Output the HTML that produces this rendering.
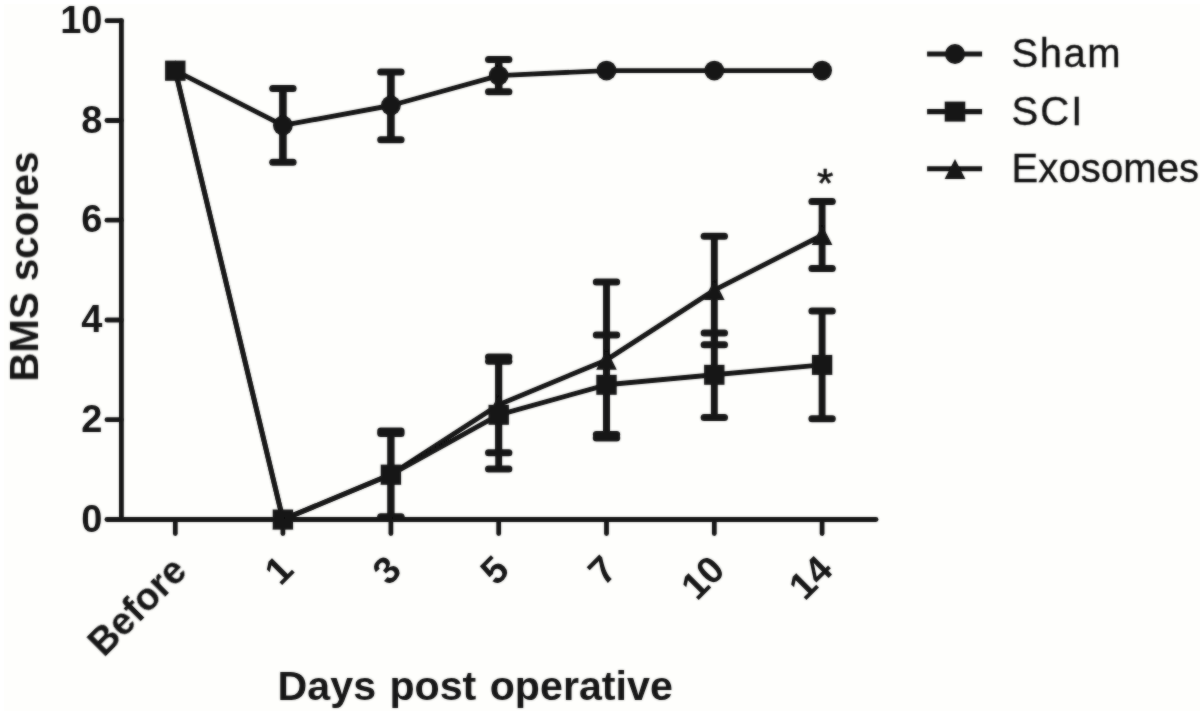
<!DOCTYPE html>
<html lang="en"><head><meta charset="utf-8"><title>BMS scores</title>
<style>html,body{margin:0;padding:0;background:#ffffff;}body{width:1204px;height:716px;overflow:hidden;}svg{display:block;}text{font-family:"Liberation Sans",Arial,Helvetica,sans-serif;fill:#121212;}</style>
</head><body>
<svg width="1204" height="716" viewBox="0 0 1204 716">
<rect x="0" y="0" width="1204" height="716" fill="#ffffff"/>
<rect x="4" y="4" width="1196" height="707" fill="#fefefc"/>
<defs><filter id="soft" x="0" y="0" width="1204" height="716" filterUnits="userSpaceOnUse"><feGaussianBlur stdDeviation="0.8" result="b"/><feComposite in="SourceGraphic" in2="b" operator="arithmetic" k1="0" k2="0.5" k3="0.5" k4="0"/></filter></defs>
<g id="chart" filter="url(#soft)">
<g id="series">
<line x1="390.9" y1="431.0" x2="390.9" y2="518.0" stroke="#121212" stroke-width="6.9"/>
<line x1="380.7" y1="431.0" x2="401.1" y2="431.0" stroke="#121212" stroke-width="7.0" stroke-linecap="round"/>
<line x1="380.7" y1="518.0" x2="401.1" y2="518.0" stroke="#121212" stroke-width="7.0" stroke-linecap="round"/>
<line x1="498.7" y1="357.1" x2="498.7" y2="452.8" stroke="#121212" stroke-width="6.9"/>
<line x1="488.5" y1="357.1" x2="508.9" y2="357.1" stroke="#121212" stroke-width="7.0" stroke-linecap="round"/>
<line x1="488.5" y1="452.8" x2="508.9" y2="452.8" stroke="#121212" stroke-width="7.0" stroke-linecap="round"/>
<line x1="606.5" y1="281.9" x2="606.5" y2="437.9" stroke="#121212" stroke-width="6.9"/>
<line x1="596.3" y1="281.9" x2="616.7" y2="281.9" stroke="#121212" stroke-width="7.0" stroke-linecap="round"/>
<line x1="596.3" y1="437.9" x2="616.7" y2="437.9" stroke="#121212" stroke-width="7.0" stroke-linecap="round"/>
<line x1="714.3" y1="236.3" x2="714.3" y2="344.8" stroke="#121212" stroke-width="6.9"/>
<line x1="704.1" y1="236.3" x2="724.5" y2="236.3" stroke="#121212" stroke-width="7.0" stroke-linecap="round"/>
<line x1="704.1" y1="344.8" x2="724.5" y2="344.8" stroke="#121212" stroke-width="7.0" stroke-linecap="round"/>
<line x1="822.1" y1="201.6" x2="822.1" y2="268.6" stroke="#121212" stroke-width="6.9"/>
<line x1="811.9" y1="201.6" x2="832.3" y2="201.6" stroke="#121212" stroke-width="7.0" stroke-linecap="round"/>
<line x1="811.9" y1="268.6" x2="832.3" y2="268.6" stroke="#121212" stroke-width="7.0" stroke-linecap="round"/>
<line x1="390.9" y1="433.6" x2="390.9" y2="516.8" stroke="#121212" stroke-width="6.9"/>
<line x1="380.7" y1="433.6" x2="401.1" y2="433.6" stroke="#121212" stroke-width="7.0" stroke-linecap="round"/>
<line x1="380.7" y1="516.8" x2="401.1" y2="516.8" stroke="#121212" stroke-width="7.0" stroke-linecap="round"/>
<line x1="498.7" y1="361.2" x2="498.7" y2="469.0" stroke="#121212" stroke-width="6.9"/>
<line x1="488.5" y1="361.2" x2="508.9" y2="361.2" stroke="#121212" stroke-width="7.0" stroke-linecap="round"/>
<line x1="488.5" y1="469.0" x2="508.9" y2="469.0" stroke="#121212" stroke-width="7.0" stroke-linecap="round"/>
<line x1="606.5" y1="335.1" x2="606.5" y2="434.5" stroke="#121212" stroke-width="6.9"/>
<line x1="596.3" y1="335.1" x2="616.7" y2="335.1" stroke="#121212" stroke-width="7.0" stroke-linecap="round"/>
<line x1="596.3" y1="434.5" x2="616.7" y2="434.5" stroke="#121212" stroke-width="7.0" stroke-linecap="round"/>
<line x1="714.3" y1="333.0" x2="714.3" y2="417.4" stroke="#121212" stroke-width="6.9"/>
<line x1="704.1" y1="333.0" x2="724.5" y2="333.0" stroke="#121212" stroke-width="7.0" stroke-linecap="round"/>
<line x1="704.1" y1="417.4" x2="724.5" y2="417.4" stroke="#121212" stroke-width="7.0" stroke-linecap="round"/>
<line x1="822.1" y1="310.9" x2="822.1" y2="418.8" stroke="#121212" stroke-width="6.9"/>
<line x1="811.9" y1="310.9" x2="832.3" y2="310.9" stroke="#121212" stroke-width="7.0" stroke-linecap="round"/>
<line x1="811.9" y1="418.8" x2="832.3" y2="418.8" stroke="#121212" stroke-width="7.0" stroke-linecap="round"/>
<line x1="282.9" y1="88.4" x2="282.9" y2="162.3" stroke="#121212" stroke-width="7.6"/>
<line x1="272.7" y1="88.4" x2="293.1" y2="88.4" stroke="#121212" stroke-width="7.0" stroke-linecap="round"/>
<line x1="272.7" y1="162.3" x2="293.1" y2="162.3" stroke="#121212" stroke-width="7.0" stroke-linecap="round"/>
<line x1="390.9" y1="71.9" x2="390.9" y2="139.8" stroke="#121212" stroke-width="7.6"/>
<line x1="380.7" y1="71.9" x2="401.1" y2="71.9" stroke="#121212" stroke-width="7.0" stroke-linecap="round"/>
<line x1="380.7" y1="139.8" x2="401.1" y2="139.8" stroke="#121212" stroke-width="7.0" stroke-linecap="round"/>
<line x1="498.7" y1="59.4" x2="498.7" y2="91.8" stroke="#121212" stroke-width="7.6"/>
<line x1="488.5" y1="59.4" x2="508.9" y2="59.4" stroke="#121212" stroke-width="7.0" stroke-linecap="round"/>
<line x1="488.5" y1="91.8" x2="508.9" y2="91.8" stroke="#121212" stroke-width="7.0" stroke-linecap="round"/>
<polyline points="175.3,70.6 282.9,519.5 390.9,474.6 498.7,404.8 606.5,359.9 714.3,290.1 822.1,235.2" fill="none" stroke="#121212" stroke-width="4.9" stroke-linejoin="round"/>
<polyline points="175.3,70.6 282.9,519.5 390.9,474.6 498.7,414.8 606.5,384.8 714.3,374.8 822.1,364.9" fill="none" stroke="#121212" stroke-width="4.9" stroke-linejoin="round"/>
<polyline points="175.3,70.6 282.9,125.4 390.9,105.5 498.7,75.6 606.5,70.6 714.3,70.6 822.1,70.6" fill="none" stroke="#121212" stroke-width="4.9" stroke-linejoin="round"/>
<polygon points="175.3,60.3 185.6,80.4 165.0,80.4" fill="#121212"/>
<polygon points="282.9,509.2 293.2,529.3 272.6,529.3" fill="#121212"/>
<polygon points="390.9,464.3 401.2,484.4 380.6,484.4" fill="#121212"/>
<polygon points="498.7,394.5 509.0,414.6 488.4,414.6" fill="#121212"/>
<polygon points="606.5,349.6 616.8,369.7 596.2,369.7" fill="#121212"/>
<polygon points="714.3,279.8 724.6,299.9 704.0,299.9" fill="#121212"/>
<polygon points="822.1,224.9 832.4,245.0 811.8,245.0" fill="#121212"/>
<rect x="165.1" y="60.6" width="20.4" height="20" fill="#121212"/>
<rect x="272.7" y="509.5" width="20.4" height="20" fill="#121212"/>
<rect x="380.7" y="464.6" width="20.4" height="20" fill="#121212"/>
<rect x="488.5" y="404.8" width="20.4" height="20" fill="#121212"/>
<rect x="596.3" y="374.8" width="20.4" height="20" fill="#121212"/>
<rect x="704.1" y="364.8" width="20.4" height="20" fill="#121212"/>
<rect x="811.9" y="354.9" width="20.4" height="20" fill="#121212"/>
<circle cx="282.9" cy="125.4" r="9.9" fill="#121212"/>
<circle cx="390.9" cy="105.5" r="9.9" fill="#121212"/>
<circle cx="498.7" cy="75.6" r="9.9" fill="#121212"/>
<circle cx="606.5" cy="70.6" r="9.9" fill="#121212"/>
<circle cx="714.3" cy="70.6" r="9.9" fill="#121212"/>
<circle cx="822.1" cy="70.6" r="9.9" fill="#121212"/>
</g>
<g id="axes" stroke="#121212" stroke-width="4.8" stroke-linecap="round" fill="none">
<path d="M121.4,20.6 V519.5"/>
<path d="M106.9,519.5 H876"/>
<path d="M106.9,419.7 H121.4"/>
<path d="M106.9,320.0 H121.4"/>
<path d="M106.9,220.2 H121.4"/>
<path d="M106.9,120.5 H121.4"/>
<path d="M106.9,20.7 H121.4"/>
<path d="M175.3,519.5 V533.5"/>
<path d="M282.9,519.5 V533.5"/>
<path d="M390.9,519.5 V533.5"/>
<path d="M498.7,519.5 V533.5"/>
<path d="M606.5,519.5 V533.5"/>
<path d="M714.3,519.5 V533.5"/>
<path d="M822.1,519.5 V533.5"/>
</g>
<g id="ylabels" font-size="38" font-weight="bold" text-anchor="end">
<text x="102.5" y="531.6">0</text>
<text x="102.5" y="431.8">2</text>
<text x="102.5" y="332.1">4</text>
<text x="102.5" y="232.3">6</text>
<text x="102.5" y="132.6">8</text>
<text x="102.5" y="32.8">10</text>
</g>
<g id="xlabels" font-size="38" font-weight="bold" text-anchor="end">
<text transform="translate(188.8,573.0) rotate(-45)" x="0" y="0">Before</text>
<text transform="translate(295.4,571.9) rotate(-45)" x="0" y="0">1</text>
<text transform="translate(403.4,571.9) rotate(-45)" x="0" y="0">3</text>
<text transform="translate(511.2,571.9) rotate(-45)" x="0" y="0">5</text>
<text transform="translate(619.0,571.9) rotate(-45)" x="0" y="0">7</text>
<text transform="translate(726.8,571.9) rotate(-45)" x="0" y="0">10</text>
<text transform="translate(834.6,571.9) rotate(-45)" x="0" y="0">14</text>
</g>
<text id="xtitle" x="475.2" y="700" font-size="41.2" word-spacing="1.9" font-weight="bold" text-anchor="middle">Days post operative</text>
<text id="ytitle" transform="translate(38,266.6) rotate(-90)" font-size="40.2" font-weight="bold" text-anchor="middle">BMS scores</text>
<text id="star" transform="translate(825.2 175.9) scale(1.0 0.95)" x="0" y="21.7" font-size="42" text-anchor="middle" stroke="#121212" stroke-width="0.6" stroke-linejoin="round">*</text>
<g id="legend">
<line x1="927.1" y1="54.0" x2="982.1" y2="54.0" stroke="#121212" stroke-width="5.1"/>
<circle cx="955.0" cy="54.0" r="10" fill="#121212"/>
<text x="1011.6" y="67.3" font-size="40" letter-spacing="1.5" stroke="#121212" stroke-width="0.35">Sham</text>
<line x1="927.1" y1="111.6" x2="982.1" y2="111.6" stroke="#121212" stroke-width="5.1"/>
<rect x="944.7" y="101.6" width="20.6" height="20" fill="#121212"/>
<text x="1011.6" y="125.2" font-size="40" letter-spacing="2.0" stroke="#121212" stroke-width="0.35">SCI</text>
<line x1="927.1" y1="168.8" x2="982.1" y2="168.8" stroke="#121212" stroke-width="5.1"/>
<polygon points="955.0,158.9 965.4,179.1 944.6,179.1" fill="#121212"/>
<text x="1011.6" y="181.8" font-size="40" letter-spacing="0.1" stroke="#121212" stroke-width="0.35">Exosomes</text>
</g>
</g>
</svg>
</body></html>
